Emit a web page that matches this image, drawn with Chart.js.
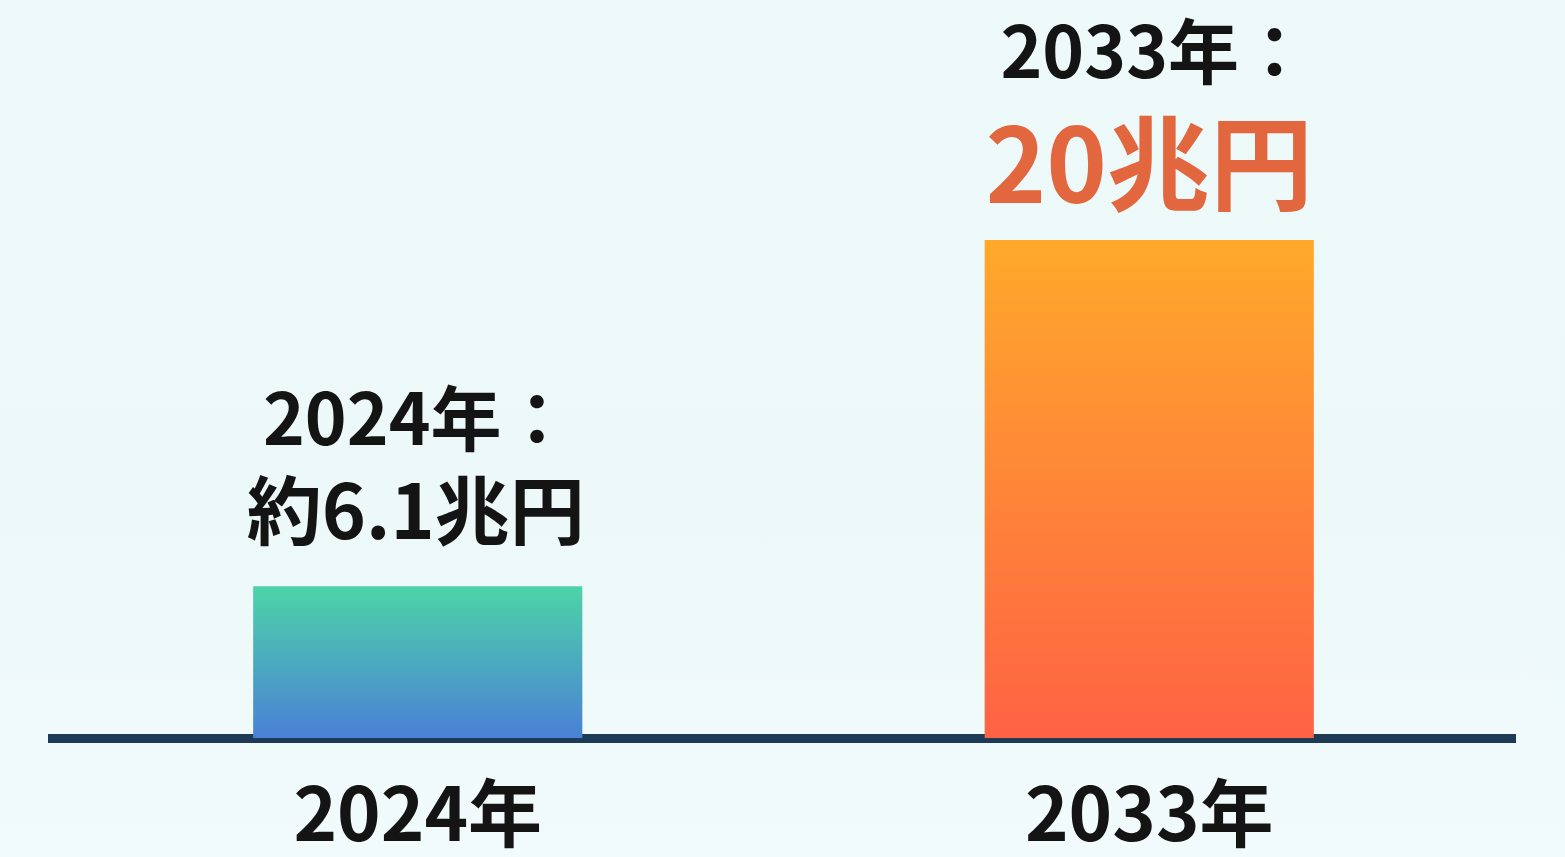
<!DOCTYPE html>
<html>
<head>
<meta charset="utf-8">
<script src="https://cdn.jsdelivr.net/npm/chart.js@4"></script>
<style>
  html, body { margin: 0; padding: 0; }
  body {
    width: 1565px; height: 857px; overflow: hidden;
    background: linear-gradient(180deg, #eef9f9 0%, #edf8f8 60%, #f1fbfb 100%);
  }
  #wrap { width: 1565px; height: 887px; }
</style>
</head>
<body>
<div id="wrap"><canvas id="marketChart"></canvas></div>
<script>
// values (兆円)
const years = ['2024年', '2033年'];
const marketSize = [6.1, 20];
const yearLabels = ['2024年：', '2033年：'];
const valueLabels = ['約6.1兆円', '20兆円'];

const FONT = '"Noto Sans CJK JP", "Noto Sans", sans-serif';

// top -> bottom colours for each bar
const barColors = [
    ['#4dd4a8', '#4a80d6'],
    ['#ffa92b', '#ff6244']
];

function barGradient(context) {
    const chart = context.chart;
    const area = chart.chartArea;
    if (!area) return barColors[context.dataIndex][0];
    const yScale = chart.scales.y;
    const top = yScale.getPixelForValue(marketSize[context.dataIndex]);
    const bottom = yScale.getPixelForValue(0);
    const g = chart.ctx.createLinearGradient(0, top, 0, bottom);
    g.addColorStop(0, barColors[context.dataIndex][0]);
    g.addColorStop(1, barColors[context.dataIndex][1]);
    return g;
}

const labelPlugin = {
    id: 'barLabels',
    afterDatasetsDraw(chart) {
        const ctx = chart.ctx;
        const meta = chart.getDatasetMeta(0);
        ctx.save();
        ctx.textAlign = 'center';
        ctx.textBaseline = 'middle';
        meta.data.forEach((bar, i) => {
            const big = i === 1;
            const valueSize = big ? 103 : 75;
            const valueY = bar.y - (big ? 76 : 76);
            ctx.font = 'bold ' + valueSize + 'px ' + FONT;
            ctx.fillStyle = big ? '#e2663e' : '#141414';
            ctx.fillText(valueLabels[i], bar.x + (big ? 0 : -2), valueY);

            ctx.font = 'bold 71px ' + FONT;
            ctx.fillStyle = '#141414';
            ctx.fillText(yearLabels[i], bar.x + (big ? 6 : 0), valueY - (big ? 113 : 92));
        });
        ctx.restore();
    }
};

const ctx = document.getElementById('marketChart').getContext('2d');
new Chart(ctx, {
    type: 'bar',
    data: {
        labels: years,
        datasets: [{
            data: marketSize,
            backgroundColor: barGradient,
            borderWidth: 0,
            barPercentage: 0.9,
            categoryPercentage: 0.5
        }]
    },
    options: {
        responsive: true,
        maintainAspectRatio: false,
        animation: false,
        layout: {
            padding: { left: 52, right: 50, top: 240, bottom: 0 }
        },
        plugins: {
            legend: { display: false },
            tooltip: { enabled: false }
        },
        scales: {
            x: {
                grid: { display: false, drawTicks: false },
                border: { display: true, color: '#1d3a56', width: 9 },
                ticks: {
                    color: '#141414',
                    padding: 30,
                    font: { family: FONT, size: 74, weight: 'bold' }
                }
            },
            y: {
                display: false,
                min: 0,
                max: 20
            }
        }
    },
    plugins: [labelPlugin]
});
</script>
</body>
</html>
